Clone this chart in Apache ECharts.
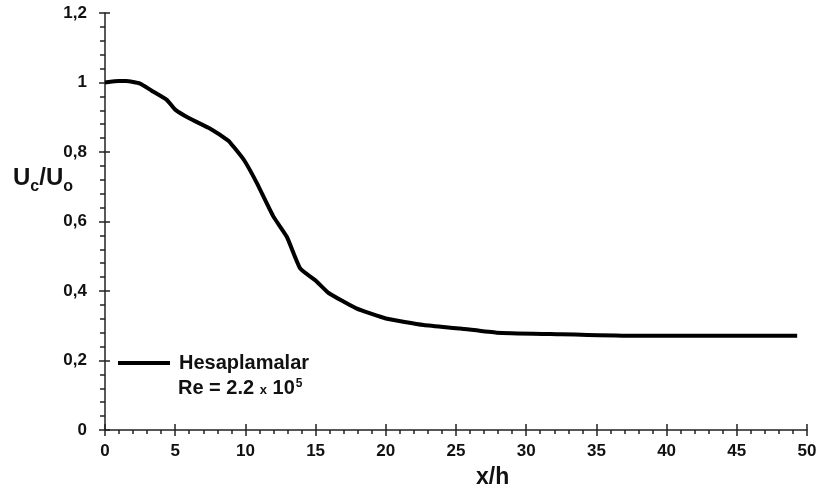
<!DOCTYPE html>
<html>
<head>
<meta charset="utf-8">
<script src="https://cdn.jsdelivr.net/npm/echarts@6/dist/echarts.min.js"></script>
<style>
  html, body { margin: 0; padding: 0; background: #fff; }
  #chart { width: 820px; height: 497px; }
</style>
</head>
<body>
<div id="chart"></div>
<script>
// Centreline velocity ratio along the channel
const xh = [0, 1, 1.5, 2.5, 3.3, 4.4, 5.0, 6.0, 7.5, 8.8, 9.1, 9.9, 10.8, 12.0, 12.95, 13.9,
            15.0, 15.9, 17.9, 20.0, 22.7, 25.3, 27.9, 31.7, 37.4, 49.3];
const ucUo = [1.0, 1.004, 1.004, 0.997, 0.977, 0.950, 0.922, 0.897, 0.867, 0.832, 0.818, 0.777,
              0.712, 0.614, 0.556, 0.465, 0.430, 0.395, 0.350, 0.321, 0.302, 0.292, 0.280,
              0.276, 0.271, 0.271];
const seriesName = 'Hesaplamalar';

const xTicks = { min: 0, max: 50, interval: 5 };
const yTicks = { min: 0, max: 1.2, interval: 0.2 };

const FONT = '"Liberation Sans", Arial, sans-serif';
const INK = '#111';
const AXIS = '#222';

const points = xh.map((x, i) => [x, ucUo[i]]);

const chart = echarts.init(document.getElementById('chart'));

const baseLabel = { fontFamily: FONT, fontWeight: 'bold', fontSize: 17, color: INK };

chart.setOption({
  animation: false,
  backgroundColor: '#fff',
  grid: { left: 105, right: 13, top: 13, bottom: 67 },
  xAxis: [
    {
      type: 'value', position: 'bottom',
      min: xTicks.min, max: xTicks.max, interval: xTicks.interval,
      axisLine: { lineStyle: { color: AXIS, width: 1.5 } },
      axisTick: { show: true, inside: false, length: 6, lineStyle: { color: AXIS, width: 1.5 } },
      minorTick: { show: true, splitNumber: 5, length: 4, lineStyle: { color: AXIS, width: 1.5 } },
      splitLine: { show: false },
      axisLabel: Object.assign({ margin: 13 }, baseLabel)
    },
    {
      type: 'value', position: 'bottom',
      min: xTicks.min, max: xTicks.max, interval: xTicks.interval,
      axisLine: { show: false },
      axisTick: { show: true, inside: true, length: 6, lineStyle: { color: AXIS, width: 1.5 } },
      splitLine: { show: false },
      axisLabel: { show: false }
    }
  ],
  yAxis: [
    {
      type: 'value', position: 'left',
      min: yTicks.min, max: yTicks.max, interval: yTicks.interval,
      axisLine: { show: true, lineStyle: { color: AXIS, width: 1.5 } },
      axisTick: { show: true, inside: false, length: 6, lineStyle: { color: AXIS, width: 1.5 } },
      minorTick: { show: true, splitNumber: 5, length: 5, lineStyle: { color: AXIS, width: 1.5 } },
      splitLine: { show: false },
      axisLabel: Object.assign({
        margin: 18,
        formatter: v => String(Math.round(v * 10) / 10).replace('.', ',')
      }, baseLabel)
    },
    {
      type: 'value', position: 'left',
      min: yTicks.min, max: yTicks.max, interval: yTicks.interval,
      axisLine: { show: false },
      axisTick: { show: true, inside: true, length: 5, lineStyle: { color: AXIS, width: 1.5 } },
      splitLine: { show: false },
      axisLabel: { show: false }
    }
  ],
  legend: {
    left: 118, top: 353, padding: 0,
    itemWidth: 52, itemHeight: 4, icon: 'rect',
    data: [seriesName],
    textStyle: { fontFamily: FONT, fontWeight: 'bold', fontSize: 20, color: INK, padding: [0, 0, 0, 4] }
  },
  graphic: [
    {
      type: 'text', left: 178, top: 378,
      style: {
        text: '{n|Re = 2.2 }{m|x}{n| 10}{p|5}',
        rich: {
          n: { fontFamily: FONT, fontWeight: 'bold', fontSize: 20, fill: INK },
          m: { fontFamily: FONT, fontWeight: 'bold', fontSize: 13, fill: INK, verticalAlign: 'bottom', padding: [0, 0, 1, 0] },
          p: { fontFamily: FONT, fontWeight: 'bold', fontSize: 12, fill: INK, verticalAlign: 'top', padding: [0, 0, 8, 1] }
        }
      }
    },
    {
      type: 'text', left: 13, top: 166,
      style: {
        text: '{b|U}{s|c}{b|/U}{s|o}',
        rich: {
          b: { fontFamily: FONT, fontWeight: 'bold', fontSize: 24, fill: INK, verticalAlign: 'top' },
          s: { fontFamily: FONT, fontWeight: 'bold', fontSize: 16, fill: INK, verticalAlign: 'top', padding: [13, 0, 0, 0] }
        }
      }
    },
    {
      type: 'text', left: 476, top: 466,
      style: { text: 'x/h', fontFamily: FONT, fontWeight: 'bold', fontSize: 23, fill: INK }
    }
  ],
  series: [
    {
      name: seriesName,
      type: 'line',
      xAxisIndex: 0, yAxisIndex: 0,
      data: points,
      showSymbol: false,
      smooth: 0.15,
      lineStyle: { color: '#000', width: 4 },
      itemStyle: { color: '#000' }
    }
  ]
});
</script>
</body>
</html>
